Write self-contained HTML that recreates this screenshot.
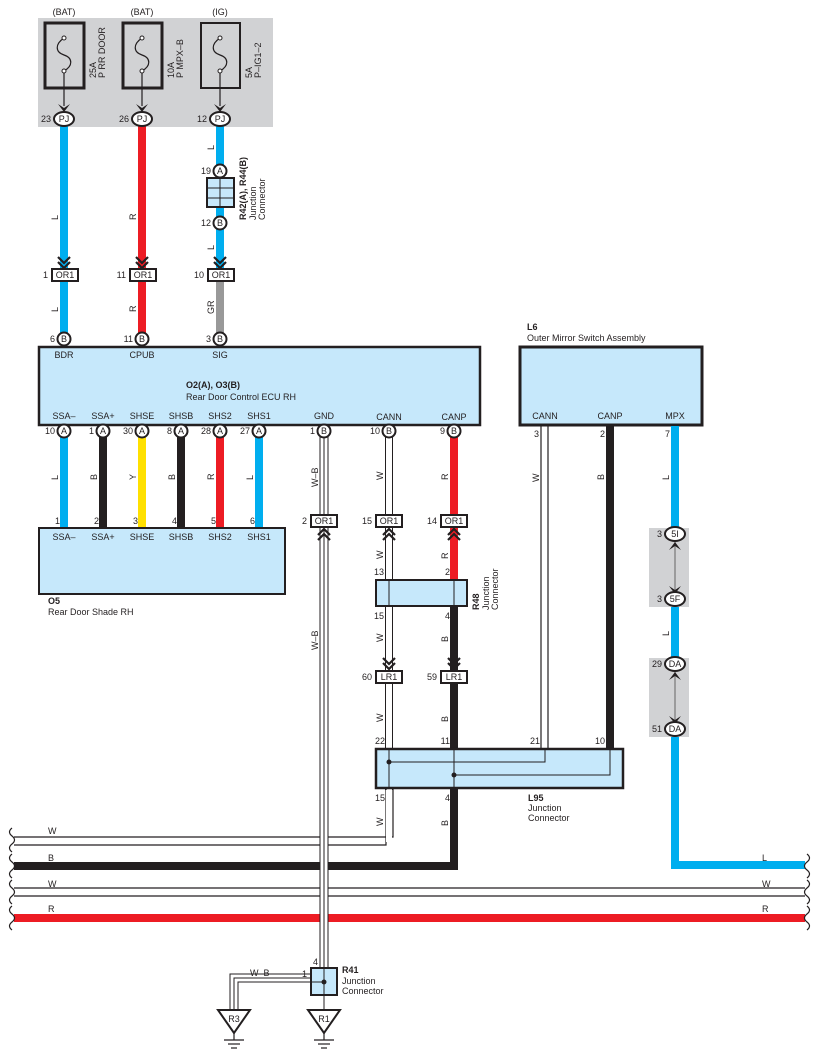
<!DOCTYPE html>
<html><head><meta charset="utf-8"><style>
html,body{margin:0;padding:0;background:#fff;}
svg{display:block;font-family:"Liberation Sans",Arial,sans-serif;}
text{font-size:9px;fill:#231f20;}
</style></head><body>
<svg width="818" height="1062" viewBox="0 0 818 1062" xmlns="http://www.w3.org/2000/svg">
<defs>
<g id="chevD"><path d="M-6,-6 L0,0 L6,-6 M-6,-1 L0,5 L6,-1" fill="none" stroke="#231f20" stroke-width="2.2"/></g>
<g id="chevU"><path d="M-6,6 L0,0 L6,6 M-6,11 L0,5 L6,11" fill="none" stroke="#231f20" stroke-width="2.2"/></g>
</defs>

<rect x="38" y="18" width="235" height="109" fill="#d1d2d4"/>
<text x="64" y="15" text-anchor="middle">(BAT)</text>
<text x="142" y="15" text-anchor="middle">(BAT)</text>
<text x="220" y="15" text-anchor="middle">(IG)</text>
<g fill="none" stroke="#231f20">
<rect x="45" y="23" width="39" height="65" stroke-width="3"/>
<rect x="123" y="23" width="39" height="65" stroke-width="3"/>
<rect x="201" y="23" width="39" height="65" stroke-width="2"/>
</g>
<g fill="none" stroke="#231f20" stroke-width="1.2">
<path d="M64,38 C55,44 55,52 64,55 C73,58 73,66 64,71"/><path d="M142,38 C133,44 133,52 142,55 C151,58 151,66 142,71"/><path d="M220,38 C211,44 211,52 220,55 C229,58 229,66 220,71"/>
<line x1="64" y1="72" x2="64" y2="106"/><line x1="142" y1="72" x2="142" y2="106"/><line x1="220" y1="72" x2="220" y2="106"/>
</g>
<g fill="#fff" stroke="#231f20" stroke-width="1"><circle cx="64" cy="38" r="2"/><circle cx="64" cy="71" r="2"/><circle cx="142" cy="38" r="2"/><circle cx="142" cy="71" r="2"/><circle cx="220" cy="38" r="2"/><circle cx="220" cy="71" r="2"/></g>
<g fill="#231f20"><path d="M58,104 L64,112 L70,104 L64,108Z"/><path d="M136,104 L142,112 L148,104 L142,108Z"/><path d="M214,104 L220,112 L226,104 L220,108Z"/></g>
<g font-size="9"><text transform="translate(96,78) rotate(-90)">25A</text><text transform="translate(105,78) rotate(-90)">P RR DOOR</text>
<text transform="translate(174,78) rotate(-90)">10A</text><text transform="translate(183,78) rotate(-90)">P MPX–B</text>
<text transform="translate(252,78) rotate(-90)">5A</text><text transform="translate(261,78) rotate(-90)">P–IG1–2</text></g>

<line x1="64" y1="126" x2="64" y2="270" stroke="#00aeef" stroke-width="8"/>
<line x1="142" y1="126" x2="142" y2="270" stroke="#ed1c24" stroke-width="8"/>
<line x1="220" y1="126" x2="220" y2="270" stroke="#00aeef" stroke-width="8"/>
<line x1="64" y1="280" x2="64" y2="334" stroke="#00aeef" stroke-width="8"/>
<line x1="142" y1="280" x2="142" y2="334" stroke="#ed1c24" stroke-width="8"/>
<line x1="220" y1="280" x2="220" y2="334" stroke="#999" stroke-width="8"/>
<g fill="#fff" stroke="#231f20" stroke-width="2"><ellipse cx="64" cy="119" rx="10" ry="7"/><ellipse cx="142" cy="119" rx="10" ry="7"/><ellipse cx="220" cy="119" rx="10" ry="7"/></g>
<text x="64" y="122" text-anchor="middle">PJ</text><text x="142" y="122" text-anchor="middle">PJ</text><text x="220" y="122" text-anchor="middle">PJ</text>
<text x="51" y="122" text-anchor="end">23</text><text x="129" y="122" text-anchor="end">26</text><text x="207" y="122" text-anchor="end">12</text>
<text transform="translate(58,220) rotate(-90)">L</text><text transform="translate(136,220) rotate(-90)">R</text><text transform="translate(214,150) rotate(-90)">L</text><text transform="translate(214,250) rotate(-90)">L</text>

<rect x="207" y="178" width="27" height="29" fill="#c6e8fb" stroke="#231f20" stroke-width="2"/>
<line x1="220" y1="178" x2="220" y2="207" stroke="#231f20"/><line x1="207" y1="188" x2="234" y2="188" stroke="#231f20"/><line x1="207" y1="198" x2="234" y2="198" stroke="#231f20"/>
<g fill="#fff" stroke="#231f20" stroke-width="2"><circle cx="220" cy="171" r="6.5"/><circle cx="220" cy="223" r="6.5"/></g>
<text x="220" y="174" text-anchor="middle">A</text><text x="220" y="226" text-anchor="middle">B</text>
<text x="211" y="174" text-anchor="end">19</text><text x="211" y="226" text-anchor="end">12</text>
<text transform="translate(246,220) rotate(-90)" font-weight="bold">R42(A), R44(B)</text>
<text transform="translate(256,220) rotate(-90)">Junction</text><text transform="translate(265,220) rotate(-90)">Connector</text>

<use href="#chevD" x="64" y="263"/><use href="#chevD" x="142" y="263"/><use href="#chevD" x="220" y="263"/>
<g fill="#fff" stroke="#231f20" stroke-width="2"><rect x="52" y="269" width="26" height="12"/><rect x="130" y="269" width="26" height="12"/><rect x="208" y="269" width="26" height="12"/></g>
<text x="65" y="278" text-anchor="middle">OR1</text><text x="143" y="278" text-anchor="middle">OR1</text><text x="221" y="278" text-anchor="middle">OR1</text>
<text x="48" y="278" text-anchor="end">1</text><text x="126" y="278" text-anchor="end">11</text><text x="204" y="278" text-anchor="end">10</text>
<text transform="translate(58,312) rotate(-90)">L</text><text transform="translate(136,312) rotate(-90)">R</text><text transform="translate(214,314) rotate(-90)">GR</text>

<rect x="39" y="347" width="441" height="78" fill="#c6e8fb" stroke="#231f20" stroke-width="2.5"/>
<text x="64" y="358" text-anchor="middle">BDR</text><text x="142" y="358" text-anchor="middle">CPUB</text><text x="220" y="358" text-anchor="middle">SIG</text>
<text x="186" y="388" font-weight="bold">O2(A), O3(B)</text><text x="186" y="400">Rear Door Control ECU RH</text>
<g text-anchor="middle"><text x="64" y="419">SSA–</text><text x="103" y="419">SSA+</text><text x="142" y="419">SHSE</text><text x="181" y="419">SHSB</text><text x="220" y="419">SHS2</text><text x="259" y="419">SHS1</text><text x="324" y="419">GND</text><text x="389" y="420">CANN</text><text x="454" y="420">CANP</text></g>

<line x1="64" y1="436" x2="64" y2="528" stroke="#00aeef" stroke-width="8"/>
<line x1="103" y1="436" x2="103" y2="528" stroke="#231f20" stroke-width="8"/>
<line x1="142" y1="436" x2="142" y2="528" stroke="#ffe000" stroke-width="8"/>
<line x1="181" y1="436" x2="181" y2="528" stroke="#231f20" stroke-width="8"/>
<line x1="220" y1="436" x2="220" y2="528" stroke="#ed1c24" stroke-width="8"/>
<line x1="259" y1="436" x2="259" y2="528" stroke="#00aeef" stroke-width="8"/>
<line x1="324" y1="436" x2="324" y2="970" stroke="#231f20" stroke-width="9"/>
<line x1="324" y1="436" x2="324" y2="970" stroke="#fff" stroke-width="7"/>
<line x1="324" y1="436" x2="324" y2="970" stroke="#231f20" stroke-width="1"/>
<line x1="389" y1="436" x2="389" y2="790" stroke="#231f20" stroke-width="8"/>
<line x1="389" y1="436" x2="389" y2="790" stroke="#fff" stroke-width="6"/>
<path d="M386,788 V845 H14" fill="none" stroke="#231f20" stroke-width="1.2"/>
<path d="M393,788 V837 H14" fill="none" stroke="#231f20" stroke-width="1.2"/>
<line x1="389" y1="790" x2="389" y2="842" stroke="#fff" stroke-width="6"/>
<line x1="454" y1="436" x2="454" y2="580" stroke="#ed1c24" stroke-width="8"/>
<path d="M454,606 V866 H14" fill="none" stroke="#231f20" stroke-width="8"/>

<g fill="#fff" stroke="#231f20" stroke-width="2">
<circle cx="64" cy="339" r="6.5"/><circle cx="142" cy="339" r="6.5"/><circle cx="220" cy="339" r="6.5"/>
<circle cx="64" cy="431" r="6.5"/><circle cx="103" cy="431" r="6.5"/><circle cx="142" cy="431" r="6.5"/><circle cx="181" cy="431" r="6.5"/><circle cx="220" cy="431" r="6.5"/><circle cx="259" cy="431" r="6.5"/><circle cx="324" cy="431" r="6.5"/><circle cx="389" cy="431" r="6.5"/><circle cx="454" cy="431" r="6.5"/></g>
<g text-anchor="middle"><text x="64" y="342">B</text><text x="142" y="342">B</text><text x="220" y="342">B</text>
<text x="64" y="434">A</text><text x="103" y="434">A</text><text x="142" y="434">A</text><text x="181" y="434">A</text><text x="220" y="434">A</text><text x="259" y="434">A</text><text x="324" y="434">B</text><text x="389" y="434">B</text><text x="454" y="434">B</text></g>
<g text-anchor="end"><text x="55" y="342">6</text><text x="133" y="342">11</text><text x="211" y="342">3</text>
<text x="55" y="434">10</text><text x="94" y="434">1</text><text x="133" y="434">30</text><text x="172" y="434">8</text><text x="211" y="434">28</text><text x="250" y="434">27</text><text x="315" y="434">1</text><text x="380" y="434">10</text><text x="445" y="434">9</text></g>
<text transform="translate(58,480) rotate(-90)">L</text><text transform="translate(97,480) rotate(-90)">B</text><text transform="translate(136,480) rotate(-90)">Y</text><text transform="translate(175,480) rotate(-90)">B</text><text transform="translate(214,480) rotate(-90)">R</text><text transform="translate(253,480) rotate(-90)">L</text>
<text transform="translate(318,487) rotate(-90)">W–B</text><text transform="translate(383,480) rotate(-90)">W</text><text transform="translate(448,480) rotate(-90)">R</text>

<rect x="39" y="528" width="246" height="66" fill="#c6e8fb" stroke="#231f20" stroke-width="2"/>
<g text-anchor="end"><text x="60" y="524">1</text><text x="99" y="524">2</text><text x="138" y="524">3</text><text x="177" y="524">4</text><text x="216" y="524">5</text><text x="255" y="524">6</text></g>
<g text-anchor="middle"><text x="64" y="540">SSA–</text><text x="103" y="540">SSA+</text><text x="142" y="540">SHSE</text><text x="181" y="540">SHSB</text><text x="220" y="540">SHS2</text><text x="259" y="540">SHS1</text></g>
<text x="48" y="604" font-weight="bold">O5</text><text x="48" y="615">Rear Door Shade RH</text>

<use href="#chevU" x="324" y="529"/><use href="#chevU" x="389" y="529"/><use href="#chevU" x="454" y="529"/>
<g fill="#fff" stroke="#231f20" stroke-width="2"><rect x="311" y="515" width="26" height="12"/><rect x="376" y="515" width="26" height="12"/><rect x="441" y="515" width="26" height="12"/></g>
<text x="324" y="524" text-anchor="middle">OR1</text><text x="389" y="524" text-anchor="middle">OR1</text><text x="454" y="524" text-anchor="middle">OR1</text>
<text x="307" y="524" text-anchor="end">2</text><text x="372" y="524" text-anchor="end">15</text><text x="437" y="524" text-anchor="end">14</text>
<text transform="translate(383,559) rotate(-90)">W</text><text transform="translate(448,559) rotate(-90)">R</text>
<text transform="translate(318,650) rotate(-90)">W–B</text>

<rect x="376" y="580" width="91" height="26" fill="#c6e8fb" stroke="#231f20" stroke-width="2"/>
<line x1="389" y1="580" x2="389" y2="606" stroke="#231f20"/><line x1="454" y1="580" x2="454" y2="606" stroke="#231f20"/>
<text x="384" y="575" text-anchor="end">13</text><text x="450" y="575" text-anchor="end">2</text>
<text x="384" y="619" text-anchor="end">15</text><text x="450" y="619" text-anchor="end">4</text>
<text transform="translate(479,610) rotate(-90)" font-weight="bold">R48</text>
<text transform="translate(489,610) rotate(-90)">Junction</text><text transform="translate(498,610) rotate(-90)">Connector</text>
<text transform="translate(383,642) rotate(-90)">W</text><text transform="translate(448,642) rotate(-90)">B</text>
<use href="#chevD" x="389" y="664"/><use href="#chevD" x="454" y="664"/>
<g fill="#fff" stroke="#231f20" stroke-width="2"><rect x="376" y="671" width="26" height="12"/><rect x="441" y="671" width="26" height="12"/></g>
<text x="389" y="680" text-anchor="middle">LR1</text><text x="454" y="680" text-anchor="middle">LR1</text>
<text x="372" y="680" text-anchor="end">60</text><text x="437" y="680" text-anchor="end">59</text>
<text transform="translate(383,722) rotate(-90)">W</text><text transform="translate(448,722) rotate(-90)">B</text>

<text x="527" y="330" font-weight="bold">L6</text><text x="527" y="341">Outer Mirror Switch Assembly</text>
<rect x="520" y="347" width="182" height="78" fill="#c6e8fb" stroke="#231f20" stroke-width="3"/>
<text x="545" y="419" text-anchor="middle">CANN</text><text x="610" y="419" text-anchor="middle">CANP</text><text x="675" y="419" text-anchor="middle">MPX</text>
<line x1="541" y1="426" x2="541" y2="762" stroke="#231f20" stroke-width="1.2"/><line x1="548" y1="426" x2="548" y2="762" stroke="#231f20" stroke-width="1.2"/>
<line x1="610" y1="426" x2="610" y2="750" stroke="#231f20" stroke-width="8"/>
<text x="539" y="437" text-anchor="end">3</text><text x="605" y="437" text-anchor="end">2</text><text x="670" y="437" text-anchor="end">7</text>
<text transform="translate(539,482) rotate(-90)">W</text><text transform="translate(604,480) rotate(-90)">B</text><text transform="translate(669,480) rotate(-90)">L</text>
<text transform="translate(669,636) rotate(-90)">L</text>
<path d="M675,426 V865 H805" fill="none" stroke="#00aeef" stroke-width="8"/>
<rect x="649" y="528" width="40" height="79" fill="#d1d2d4"/><rect x="649" y="658" width="40" height="79" fill="#d1d2d4"/>
<line x1="675" y1="540" x2="675" y2="594" stroke="#777" stroke-width="1.2"/><line x1="675" y1="670" x2="675" y2="724" stroke="#777" stroke-width="1.2"/>
<g fill="#231f20"><path d="M669,550 L675,542 L681,550 L675,546Z"/><path d="M669,586 L675,594 L681,586 L675,590Z"/><path d="M669,680 L675,672 L681,680 L675,676Z"/><path d="M669,716 L675,724 L681,716 L675,720Z"/></g>
<g fill="#fff" stroke="#231f20" stroke-width="2"><ellipse cx="675" cy="534" rx="10" ry="7"/><ellipse cx="675" cy="599" rx="10" ry="7"/><ellipse cx="675" cy="664" rx="10" ry="7"/><ellipse cx="675" cy="729" rx="10" ry="7"/></g>
<text x="675" y="537" text-anchor="middle">5I</text><text x="675" y="602" text-anchor="middle">5F</text><text x="675" y="667" text-anchor="middle">DA</text><text x="675" y="732" text-anchor="middle">DA</text>
<text x="662" y="537" text-anchor="end">3</text><text x="662" y="602" text-anchor="end">3</text><text x="662" y="667" text-anchor="end">29</text><text x="662" y="732" text-anchor="end">51</text>

<rect x="376" y="749" width="247" height="39" fill="#c6e8fb" stroke="#231f20" stroke-width="2.5"/>
<line x1="389" y1="749" x2="389" y2="788" stroke="#231f20"/><line x1="454" y1="749" x2="454" y2="788" stroke="#231f20"/>
<path d="M389,762 H545 V750" fill="none" stroke="#231f20"/><path d="M454,775 H610 V750" fill="none" stroke="#231f20"/>
<circle cx="389" cy="762" r="2.5" fill="#231f20"/><circle cx="454" cy="775" r="2.5" fill="#231f20"/>
<text x="385" y="744" text-anchor="end">22</text><text x="450" y="744" text-anchor="end">11</text><text x="540" y="744" text-anchor="end">21</text><text x="605" y="744" text-anchor="end">10</text>
<text x="385" y="801" text-anchor="end">15</text><text x="450" y="801" text-anchor="end">4</text>
<text x="528" y="801" font-weight="bold">L95</text><text x="528" y="811">Junction</text><text x="528" y="821">Connector</text>
<text transform="translate(383,826) rotate(-90)">W</text><text transform="translate(448,826) rotate(-90)">B</text>

<line x1="14" y1="888" x2="805" y2="888" stroke="#231f20" stroke-width="1.2"/>
<line x1="14" y1="896" x2="805" y2="896" stroke="#231f20" stroke-width="1.2"/>
<line x1="14" y1="918" x2="805" y2="918" stroke="#ed1c24" stroke-width="8"/>
<g fill="none" stroke="#231f20" stroke-width="1.2">
<path d="M12,828 q-5,4 0,8 q5,4 0,8 q-5,4 0,8"/><path d="M12,854 q-5,4 0,8 q5,4 0,8 q-5,4 0,8"/><path d="M12,880 q-5,4 0,8 q5,4 0,8 q-5,4 0,8"/><path d="M12,906 q-5,4 0,8 q5,4 0,8 q-5,4 0,8"/>
<path d="M807,854 q5,4 0,8 q-5,4 0,8 q5,4 0,8"/><path d="M807,880 q5,4 0,8 q-5,4 0,8 q5,4 0,8"/><path d="M807,906 q5,4 0,8 q-5,4 0,8 q5,4 0,8"/></g>
<text x="48" y="834">W</text><text x="48" y="861">B</text><text x="48" y="887">W</text><text x="48" y="912">R</text>
<text x="762" y="861">L</text><text x="762" y="887">W</text><text x="762" y="912">R</text>
<line x1="324" y1="826" x2="324" y2="970" stroke="#231f20" stroke-width="9"/>
<line x1="324" y1="826" x2="324" y2="970" stroke="#fff" stroke-width="7"/>
<line x1="324" y1="826" x2="324" y2="970" stroke="#231f20" stroke-width="1"/>

<path d="M311,978 H234 V1010" fill="none" stroke="#231f20" stroke-width="9"/>
<path d="M311,978 H234 V1010" fill="none" stroke="#fff" stroke-width="7"/>
<path d="M311,978 H234 V1010" fill="none" stroke="#231f20" stroke-width="1"/>
<rect x="311" y="968" width="26" height="27" fill="#c6e8fb" stroke="#231f20" stroke-width="2"/>
<line x1="324" y1="968" x2="324" y2="1010" stroke="#231f20"/><line x1="311" y1="982" x2="324" y2="982" stroke="#231f20"/>
<circle cx="324" cy="982" r="2.5" fill="#231f20"/>
<text x="318" y="965" text-anchor="end">4</text><text x="307" y="977" text-anchor="end">1</text>
<text x="250" y="976">W–B</text>
<text x="342" y="973" font-weight="bold">R41</text><text x="342" y="984">Junction</text><text x="342" y="994">Connector</text>
<g fill="#fff" stroke="#231f20" stroke-width="2"><path d="M218,1010 H250 L234,1033Z"/><path d="M308,1010 H340 L324,1033Z"/></g>
<text x="234" y="1022" text-anchor="middle">R3</text><text x="324" y="1022" text-anchor="middle">R1</text>
<g stroke="#231f20" stroke-width="1.2"><line x1="234" y1="1033" x2="234" y2="1040"/><line x1="224" y1="1040" x2="244" y2="1040"/><line x1="228" y1="1044" x2="240" y2="1044"/><line x1="231" y1="1048" x2="237" y2="1048"/>
<line x1="324" y1="1033" x2="324" y2="1040"/><line x1="314" y1="1040" x2="334" y2="1040"/><line x1="318" y1="1044" x2="330" y2="1044"/><line x1="321" y1="1048" x2="327" y2="1048"/></g>
</svg>
</body></html>
